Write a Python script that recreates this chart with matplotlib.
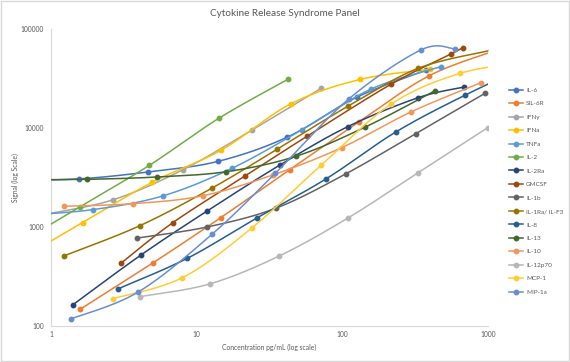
import numpy as np
import matplotlib
matplotlib.use("Agg")
import matplotlib.pyplot as plt
from matplotlib.ticker import FixedLocator, FixedFormatter, NullLocator

plt.rcParams['font.family'] = ['Lato', 'DejaVu Sans']

names = ["IL-6", "SIL-6R", "IFNy", "IFNa", "TNFa", "IL-2", "IL-2Ra", "GMCSF",
         "IL-1b", "IL-1Ra/ IL-F3", "IL-8", "IL-13", "IL-10", "IL-12p70",
         "MCP-1", "MIP-1a"]

colors = ["#4472C4", "#ED7D31", "#A5A5A5", "#FFC000", "#5B9BD5", "#70AD47",
          "#264478", "#9E480E", "#636363", "#997300", "#255E91", "#43682B",
          "#F1975A", "#B7B7B7", "#FFCD33", "#698ED0"]

# concentration (pg/mL) and signal per analyte
il6_x = [0.52, 1.55, 4.67, 14.0, 42.0, 126, 378]
il6_y = [2950, 3060, 3600, 4600, 8100, 20500, 38500]
sil6r_x = [1.58, 5.0, 14.6, 43.6, 131, 394, 1180]
sil6r_y = [147, 433, 1240, 3800, 11600, 33700, 62000]
ifny_x = [0.89, 2.66, 8.0, 23.9, 71.8]
ifny_y = [1330, 1880, 3770, 9500, 25300]
ifna_x = [0.55, 1.65, 4.94, 14.8, 44.5, 133, 400]
ifna_y = [430, 1110, 2830, 6000, 17600, 31000, 39200]
tnfa_x = [0.65, 1.95, 5.85, 17.5, 52.6, 158, 474]
tnfa_y = [1310, 1500, 2060, 3920, 9550, 24800, 41600]
il2_x = [0.53, 1.58, 4.74, 14.2, 42.7]
il2_y = [614, 1600, 4200, 12540, 31260]
il2ra_x = [1.415, 4.12, 11.7, 37.6, 108.7, 330, 682]
il2ra_y = [164, 518, 1440, 4260, 10300, 20200, 25900]
gmcsf_x = [3.02, 6.88, 21.3, 57.6, 217, 555, 671]
gmcsf_y = [430, 1110, 3250, 8300, 27800, 55800, 64700]
il1b_x = [3.92, 11.8, 35.3, 106, 318, 953]
il1b_y = [774, 1000, 1556, 3450, 8750, 22400]
il1ra_x = [1.22, 4.07, 12.8, 35.7, 110, 332, 1050]
il1ra_y = [509, 1030, 2480, 6100, 16700, 40100, 61000]
il8_x = [2.88, 8.63, 25.9, 77.7, 233, 699, 2100]
il8_y = [237, 483, 1233, 3076, 9120, 21540, 46000]
il13_x = [0.59, 1.78, 5.35, 16.0, 48.1, 144, 433]
il13_y = [2980, 3030, 3200, 3620, 5180, 10240, 23800]
il10_x = [1.23, 3.68, 11.05, 33.2, 99.5, 298, 895]
il10_y = [1620, 1720, 2070, 3350, 6350, 14600, 28700]
il12_x = [4.09, 12.3, 36.8, 110, 331, 994]
il12_y = [198, 266, 509, 1240, 3530, 10070]
mcp1_x = [2.66, 7.98, 23.9, 71.8, 215, 646, 1940]
mcp1_y = [189, 308, 977, 4230, 17350, 35700, 47000]
mip1a_x = [1.37, 3.96, 12.8, 34.6, 110.5, 349, 591]
mip1a_y = [118, 220, 849, 3480, 19600, 61800, 62800]

xs = [il6_x, sil6r_x, ifny_x, ifna_x, tnfa_x, il2_x, il2ra_x, gmcsf_x,
      il1b_x, il1ra_x, il8_x, il13_x, il10_x, il12_x, mcp1_x, mip1a_x]
ys = [il6_y, sil6r_y, ifny_y, ifna_y, tnfa_y, il2_y, il2ra_y, gmcsf_y,
      il1b_y, il1ra_y, il8_y, il13_y, il10_y, il12_y, mcp1_y, mip1a_y]


def smooth(x, y, n=40):
    # excel style smoothed line, bezier in log space
    P = np.column_stack([np.log10(x), np.log10(y)])
    out = []
    t = np.linspace(0, 1, n)[:, None]
    for i in range(len(P) - 1):
        p0 = P[i - 1] if i > 0 else P[i]
        p3 = P[i + 2] if i + 2 < len(P) else P[i + 1]
        c1 = P[i] + (P[i + 1] - p0) / 6
        c2 = P[i + 1] - (p3 - P[i]) / 6
        seg = (1 - t)**3 * P[i] + 3 * (1 - t)**2 * t * c1 + 3 * (1 - t) * t**2 * c2 + t**3 * P[i + 1]
        out.append(seg)
    out = np.vstack(out)
    return 10**out[:, 0], 10**out[:, 1]


fig = plt.figure(figsize=(5.7, 3.62), dpi=100)
ax = fig.add_axes([51 / 570, 1 - 326 / 362, 437 / 570, 297 / 362])

handles = []
for i in range(len(names)):
    sx, sy = smooth(xs[i], ys[i])
    ax.plot(sx, sy, color=colors[i], lw=1.1, zorder=2 + i)
    ax.plot(xs[i], ys[i], 'o', color=colors[i], ms=3.2, zorder=2 + i)
    h, = plt.plot([], [], '-o', color=colors[i], lw=1.1, ms=3.2)
    handles.append(h)

ax.set_xscale('log')
ax.set_yscale('log')
ax.set_xlim(1, 1000)
ax.set_ylim(100, 100000)

ax.xaxis.set_major_locator(FixedLocator([1, 10, 100, 1000]))
ax.xaxis.set_major_formatter(FixedFormatter(["1", "10", "100", "1000"]))
ax.yaxis.set_major_locator(FixedLocator([100, 1000, 10000, 100000]))
ax.yaxis.set_major_formatter(FixedFormatter(["100", "1000", "10000", "100000"]))
ax.xaxis.set_minor_locator(NullLocator())
ax.yaxis.set_minor_locator(NullLocator())
ax.tick_params(length=0, labelsize=4.8, labelcolor='#595959')
ax.tick_params(axis='y', pad=5)
ax.tick_params(axis='x', pad=3.6)

for s in ['top', 'right']:
    ax.spines[s].set_visible(False)
for s in ['left', 'bottom']:
    ax.spines[s].set_color('#D9D9D9')
    ax.spines[s].set_linewidth(0.8)

fig.text(0.5, 1 - 13.5 / 362, "Cytokine Release Syndrome Panel", ha='center',
         va='center', fontsize=7.2, color='#595959')
fig.text(269.5 / 570, 1 - 347.7 / 362, "Concentration pg/mL (log scale)",
         ha='center', va='center', fontsize=4.9, color='#595959')
fig.text(15.5 / 570, 1 - 177.5 / 362, "Signal (log Scale)", rotation=90,
         ha='center', va='center', fontsize=4.9, color='#595959')

fig.legend(handles, names, loc='upper left', bbox_to_anchor=(509 / 570, 1 - 87.5 / 362),
           frameon=False, fontsize=4.6, labelspacing=1.25, handlelength=2.2,
           handletextpad=0.45, borderpad=0, borderaxespad=0, labelcolor='#595959')

fig.add_artist(plt.Rectangle((0.001, 0.002), 0.997, 0.995, transform=fig.transFigure,
                             fill=False, ec='#D9D9D9', lw=1))

fig.savefig("out.png", dpi=100)
